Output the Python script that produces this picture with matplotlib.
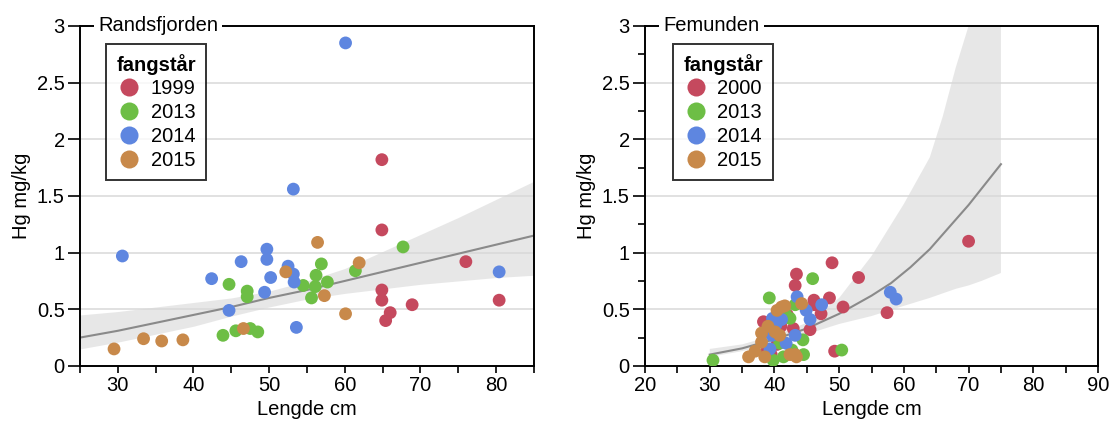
import matplotlib
matplotlib.use("Agg")
import matplotlib.pyplot as plt
from matplotlib.ticker import MultipleLocator
from matplotlib.lines import Line2D

plt.rcParams['font.family'] = ['Liberation Sans', 'DejaVu Sans']
plt.rcParams['font.size'] = 14.5

# colours per catch year
col_red = '#C5495E'
col_green = '#6DBE45'
col_blue = '#5E86E0'
col_orange = '#C8894A'

# ---- Randsfjorden ----
r_1999_x = [64.9, 64.9, 64.9, 64.9, 65.4, 66.0, 68.9, 76.0, 80.4]
r_1999_y = [1.82, 1.20, 0.67, 0.58, 0.40, 0.47, 0.54, 0.92, 0.58]
r_2013_x = [43.9, 44.7, 45.6, 47.1, 47.1, 47.5, 48.5, 54.5, 56.9, 56.2, 56.1, 55.6, 57.7, 61.4, 67.7]
r_2013_y = [0.27, 0.72, 0.31, 0.66, 0.61, 0.33, 0.30, 0.71, 0.90, 0.80, 0.70, 0.60, 0.74, 0.84, 1.05]
r_2014_x = [30.6, 42.4, 44.7, 46.3, 49.4, 49.7, 49.7, 50.2, 52.5, 53.2, 53.2, 53.3, 53.6, 60.1, 80.4]
r_2014_y = [0.97, 0.77, 0.49, 0.92, 0.65, 0.94, 1.03, 0.78, 0.88, 1.56, 0.81, 0.74, 0.34, 2.85, 0.83]
r_2015_x = [29.5, 33.4, 35.8, 38.6, 46.6, 52.2, 56.4, 57.3, 60.1, 61.9]
r_2015_y = [0.15, 0.24, 0.22, 0.23, 0.33, 0.83, 1.09, 0.62, 0.46, 0.91]

r_fit_x = [25, 30, 35, 40, 45, 50, 55, 60, 65, 70, 75, 80, 85]
r_fit_y = [0.25, 0.31, 0.38, 0.45, 0.52, 0.60, 0.67, 0.75, 0.83, 0.91, 0.99, 1.07, 1.15]
r_fit_hi = [0.45, 0.48, 0.52, 0.56, 0.60, 0.66, 0.75, 0.86, 1.01, 1.16, 1.31, 1.47, 1.63]
r_fit_lo = [0.15, 0.21, 0.28, 0.35, 0.44, 0.52, 0.59, 0.64, 0.68, 0.72, 0.75, 0.78, 0.80]

# ---- Femunden ----
f_2000_x = [38.3, 38.8, 40.4, 41.0, 42.0, 42.9, 43.2, 43.4, 45.5, 46.1, 46.2, 47.2, 48.5, 48.9,
            49.3, 50.6, 53.0, 57.4, 70.0, 39.5, 41.3]
f_2000_y = [0.39, 0.13, 0.19, 0.35, 0.45, 0.33, 0.71, 0.81, 0.32, 0.58, 0.54, 0.46, 0.60, 0.91,
            0.13, 0.52, 0.78, 0.47, 1.10, 0.10, 0.45]
f_2013_x = [30.5, 39.2, 39.8, 41.4, 42.4, 42.7, 43.2, 44.4, 44.5, 45.9, 50.4, 40.8, 41.6]
f_2013_y = [0.05, 0.60, 0.05, 0.08, 0.42, 0.14, 0.54, 0.23, 0.10, 0.77, 0.14, 0.20, 0.47]
f_2014_x = [39.6, 39.7, 41.1, 41.8, 43.2, 43.5, 44.9, 45.5, 47.3, 57.9, 58.8, 39.3, 40.2]
f_2014_y = [0.27, 0.42, 0.41, 0.20, 0.27, 0.61, 0.49, 0.41, 0.54, 0.65, 0.59, 0.15, 0.36]
f_2015_x = [36.0, 37.0, 38.0, 38.0, 38.5, 40.1, 40.4, 41.1, 41.6, 42.4, 43.2, 43.4, 44.2, 39.0, 40.8]
f_2015_y = [0.08, 0.13, 0.29, 0.21, 0.08, 0.30, 0.49, 0.52, 0.53, 0.10, 0.10, 0.08, 0.55, 0.35, 0.27]

f_fit_x = [30, 35, 40, 45, 50, 55, 58, 61, 64, 70, 75]
f_fit_y = [0.10, 0.155, 0.235, 0.33, 0.46, 0.62, 0.73, 0.87, 1.03, 1.42, 1.78]
f_band_x = [30, 35, 40, 45, 50, 55, 60, 64, 66, 68, 70, 72, 75]
f_band_hi = [0.15, 0.19, 0.27, 0.38, 0.60, 0.97, 1.43, 1.84, 2.20, 2.63, 3.00, 3.60, 4.40]
f_band_lo = [0.08, 0.13, 0.20, 0.28, 0.37, 0.44, 0.53, 0.60, 0.64, 0.68, 0.71, 0.75, 0.82]


def panel(ax, title, series, fit_x, fit_y, band_x, band_lo, band_hi, xlim, xticks, yminor, legx):
    ax.set_xlim(*xlim)
    ax.set_ylim(0, 3)
    for y in [0.5, 1, 1.5, 2, 2.5]:
        ax.axhline(y, color='#dedede', lw=1.3, zorder=0)
    ax.fill_between(band_x, band_lo, band_hi, color='#d8d8d8', alpha=0.6, lw=0, zorder=1)
    ax.plot(fit_x, fit_y, color='#8a8a8a', lw=1.5, zorder=2)
    handles = []
    for lab, xs, ys, c in series:
        ax.scatter(xs, ys, s=85, color=c, edgecolors='none', zorder=3)
        handles.append(Line2D([], [], marker='o', ls='', markersize=13,
                              markerfacecolor=c, markeredgecolor='none', label=lab))
    ax.set_xticks(xticks)
    ax.xaxis.set_minor_locator(MultipleLocator(5))
    ax.set_yticks([0, 0.5, 1, 1.5, 2, 2.5, 3])
    ax.set_yticklabels(['0', '0.5', '1', '1.5', '2', '2.5', '3'])
    if yminor:
        ax.yaxis.set_minor_locator(MultipleLocator(0.25))
        ax.tick_params(axis='y', which='minor', length=5, width=1.2)
    ax.tick_params(axis='y', which='major', length=9)
    ax.tick_params(axis='x', which='both', length=5, width=1.2)
    ax.tick_params(axis='both', which='major', width=1.2, labelsize=14.5, pad=2)
    for s in ax.spines.values():
        s.set_linewidth(1.4)
    ax.text(0.04, 1.0, title, transform=ax.transAxes, fontsize=14.5, va='center', ha='left',
            bbox=dict(facecolor='white', edgecolor='none', pad=3), zorder=5)
    ax.set_xlabel('Lengde cm', fontsize=14.5, labelpad=4)
    ax.set_ylabel('Hg mg/kg', fontsize=14.5, labelpad=4)
    leg = ax.legend(handles=handles, title='fangstår', loc='upper left',
                    bbox_to_anchor=(legx, 0.948), borderaxespad=0, frameon=True, fancybox=False,
                    edgecolor='black', fontsize=14.5, handletextpad=0.4,
                    labelspacing=0.24, borderpad=0.5, handlelength=1.3,
                    alignment='left', title_fontproperties={'weight': 'bold', 'size': 14.5})
    leg.get_frame().set_linewidth(1.4)


fig = plt.figure(figsize=(11.11, 4.25), dpi=100)
ax1 = fig.add_axes([0.072, 0.139, 0.4086, 0.80])
ax2 = fig.add_axes([0.5806, 0.139, 0.4077, 0.80])

panel(ax1, 'Randsfjorden',
      [('1999', r_1999_x, r_1999_y, col_red), ('2013', r_2013_x, r_2013_y, col_green),
       ('2014', r_2014_x, r_2014_y, col_blue), ('2015', r_2015_x, r_2015_y, col_orange)],
      r_fit_x, r_fit_y, r_fit_x, r_fit_lo, r_fit_hi, (25, 85), [30, 40, 50, 60, 70, 80], False, 0.058)

panel(ax2, 'Femunden',
      [('2000', f_2000_x, f_2000_y, col_red), ('2013', f_2013_x, f_2013_y, col_green),
       ('2014', f_2014_x, f_2014_y, col_blue), ('2015', f_2015_x, f_2015_y, col_orange)],
      f_fit_x, f_fit_y, f_band_x, f_band_lo, f_band_hi, (20, 90), [20, 30, 40, 50, 60, 70, 80, 90], True, 0.062)

fig.savefig('out.png', dpi=100)
